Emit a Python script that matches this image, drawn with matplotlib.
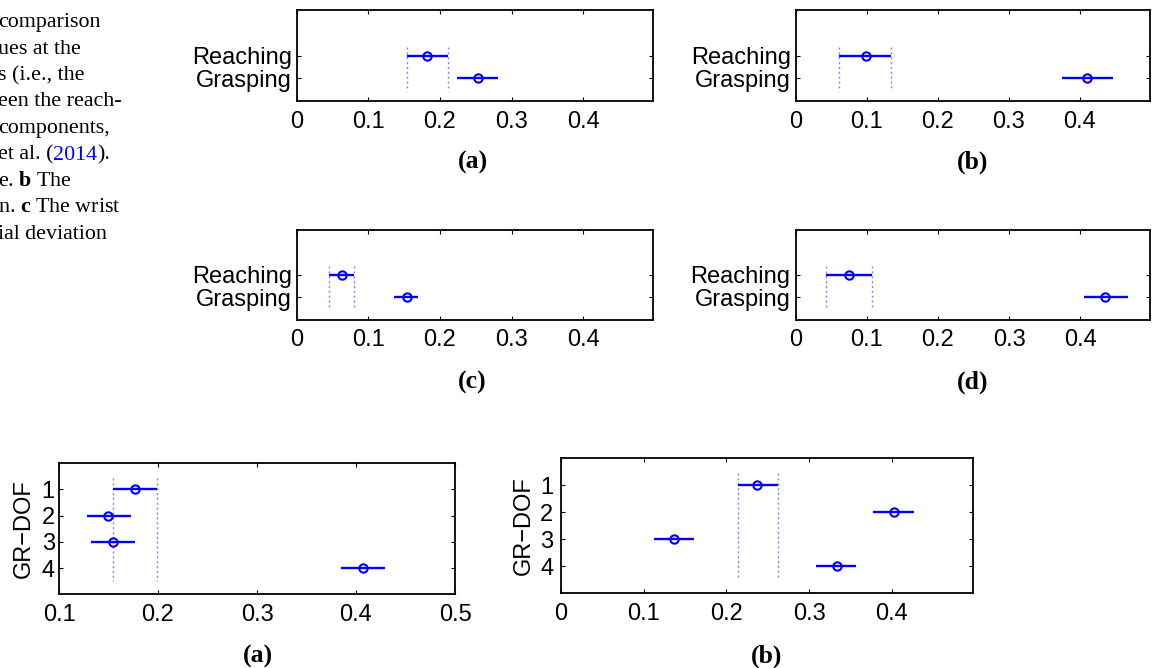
import matplotlib
matplotlib.use('Agg')
import numpy as np
import matplotlib.pyplot as plt

W, H = 1152, 668

plt.rcParams['font.family'] = 'Liberation Sans'
plt.rcParams['mathtext.fontset'] = 'custom'
plt.rcParams['mathtext.rm'] = 'Liberation Serif'
plt.rcParams['mathtext.bf'] = 'Liberation Serif:bold'

# --- data -----------------------------------------------------------------
groups = ['Reaching', 'Grasping']
dof = ['1', '2', '3', '4']

# top row / second row: mean and comparison interval (lower, upper)
a_mean = [0.1825, 0.2526]
a_lo = [0.1534, 0.2236]
a_hi = [0.2119, 0.2815]

b_mean = [0.0985, 0.4103]
b_lo = [0.0613, 0.3751]
b_hi = [0.1337, 0.4460]

c_mean = [0.0632, 0.1534]
c_lo = [0.0458, 0.1356]
c_hi = [0.0794, 0.1693]

d_mean = [0.0758, 0.4351]
d_lo = [0.0431, 0.4046]
d_hi = [0.1076, 0.4670]

# bottom row, GR-DOF 1..4
ga_mean = [0.1768, 0.1498, 0.1542, 0.4067]
ga_lo = [0.1549, 0.1286, 0.1320, 0.3845]
ga_hi = [0.1993, 0.1724, 0.1764, 0.4293]

gb_mean = [0.2375, 0.4033, 0.1363, 0.3334]
gb_lo = [0.2140, 0.3780, 0.1120, 0.3083]
gb_hi = [0.2625, 0.4268, 0.1606, 0.3570]

top_ticks = [0, 0.1, 0.2, 0.3, 0.4]
bot_a_ticks = [0.1, 0.2, 0.3, 0.4, 0.5]

caption = ['comparison', 'ues at the', 's (i.e., the', 'een the reach-',
           'components,', None, r'e. $\mathbf{b}$ The',
           r'n. $\mathbf{c}$ The wrist', 'ial deviation']
cite = ['et al. (', '2014', ').']

BLUE = '#0000ff'
DOT = '#8484ff'


def box(l, r, t, b):
    return [l / W, 1 - b / H, (r - l) / W, (b - t) / H]


def fmt(v):
    return '0' if v == 0 else '%g' % v


def panel(rect, mean, lo, hi, labels, xlim, xticks, ylim, dots, ypad, ylabel=None):
    ax = fig.add_axes(box(*rect))
    mean, lo, hi = np.array(mean), np.array(lo), np.array(hi)
    pos = np.arange(1, len(mean) + 1)
    ax.vlines([lo[0], hi[0]], dots[0], dots[1], colors=DOT,
              linestyles=(0, (1.5, 2)), linewidth=1)
    ax.errorbar(mean, pos, xerr=[mean - lo, hi - mean], fmt='o', color=BLUE,
                mfc='none', mec=BLUE, ms=6, mew=1.5, elinewidth=1.7, capsize=0)
    ax.set_xlim(*xlim)
    ax.set_ylim(*ylim)
    ax.set_xticks(xticks)
    ax.set_xticklabels([fmt(v) for v in xticks])
    ax.set_yticks(pos)
    ax.set_yticklabels(labels)
    ax.tick_params(direction='in', top=True, right=True, length=3, width=0.8,
                   labelsize=17)
    ax.tick_params(axis='x', pad=7)
    ax.tick_params(axis='y', pad=ypad)
    for s in ax.spines.values():
        s.set_linewidth(1.3)
    if ylabel:
        ax.set_ylabel(ylabel, fontsize=17)
    return ax


fig = plt.figure(figsize=(W / 100, H / 100), dpi=100)

panel((296.7, 653.3, 10, 101), a_mean, a_lo, a_hi, groups, (0, 0.498),
      top_ticks, (3, -1), (0.62, 2.55), 3.6)
panel((795.7, 1149.5, 10, 101), b_mean, b_lo, b_hi, groups, (0, 0.498),
      top_ticks, (3, -1), (0.62, 2.55), 3.6)
panel((296.7, 653.3, 230, 319.5), c_mean, c_lo, c_hi, groups, (0, 0.498),
      top_ticks, (3, -1), (0.62, 2.55), 3.6)
panel((795.5, 1150, 230, 319.5), d_mean, d_lo, d_hi, groups, (0, 0.498),
      top_ticks, (3, -1), (0.62, 2.55), 3.6)
ax5 = panel((59, 455, 463.3, 594.3), ga_mean, ga_lo, ga_hi, dof, (0.1, 0.5),
            bot_a_ticks, (5, 0), (0.55, 4.5), 3, 'GR\u2212DOF')
ax5.yaxis.set_label_coords((35 - 59) / 396, 0.5)
ax6 = panel((561, 972.7, 458.3, 593.3), gb_mean, gb_lo, gb_hi, dof, (0, 0.498),
            top_ticks, (5, 0), (0.55, 4.5), 5.5, 'GR\u2212DOF')
ax6.yaxis.set_label_coords((535 - 561) / 411.7, 0.5)

# sub-figure letters
for s, x, y in [('(a)', 472.5, 162.5), ('(b)', 972.5, 162.5),
                ('(c)', 472.5, 382.5), ('(d)', 972.5, 382.5),
                ('(a)', 257.5, 656), ('(b)', 766.7, 656)]:
    fig.text(x / W, 1 - y / H, s, ha='center', va='center', fontsize=18.5,
             family='Liberation Serif', weight='bold')

# clipped caption text on the left
cap_x = -2
for i, line in enumerate(caption):
    yb = 1 - (27 + 26.5 * i) / H
    if line is not None:
        fig.text(cap_x / W, yb, line, ha='left', va='baseline', fontsize=15.8,
                 family='Liberation Serif')
        continue
    r = fig.canvas.get_renderer()
    x = cap_x / W
    for j, seg in enumerate(cite):
        t = fig.text(x, yb, seg, ha='left', va='baseline', fontsize=15.8,
                     family='Liberation Serif', color=BLUE if j == 1 else 'black')
        x = fig.transFigure.inverted().transform(
            (t.get_window_extent(r).x1, 0))[0]

fig.savefig('out.png', dpi=100)
